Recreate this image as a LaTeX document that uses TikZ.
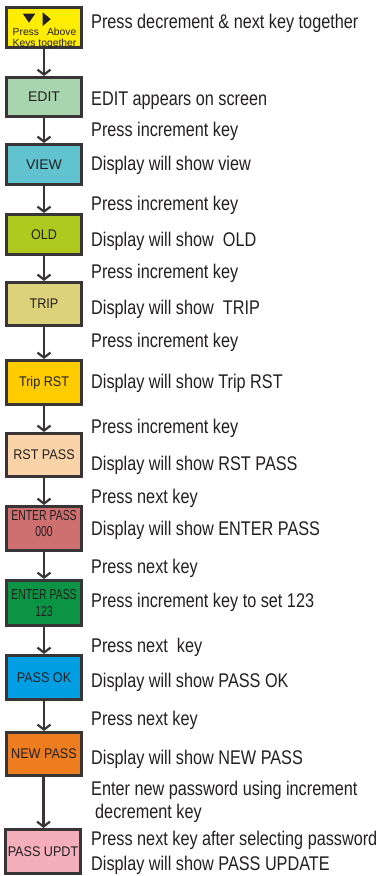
\documentclass[tikz,border=0pt]{standalone}
\usepackage{fontspec}
\setmainfont{Liberation Sans}[FakeStretch=0.82]
\newfontfamily\boxw{Liberation Sans}
\newfontfamily\boxn{Liberation Sans}[FakeStretch=0.9]
\newfontfamily\boxnn{Liberation Sans}[FakeStretch=0.72]
\usetikzlibrary{arrows.meta}
\definecolor{ink}{HTML}{231F20}
\definecolor{cYel}{HTML}{FFED00}
\definecolor{cEdit}{HTML}{A8D5AE}
\definecolor{cView}{HTML}{62C3D0}
\definecolor{cOld}{HTML}{AFCA1E}
\definecolor{cTrip}{HTML}{DCD27A}
\definecolor{cTrst}{HTML}{FFCC00}
\definecolor{cRst}{HTML}{FAD4A8}
\definecolor{cEnA}{HTML}{CF7070}
\definecolor{cEnB}{HTML}{0B9444}
\definecolor{cOk}{HTML}{009FE3}
\definecolor{cNew}{HTML}{EE7D1F}
\definecolor{cUpd}{HTML}{F4AFBA}
\tikzset{
  stepbox/.style={draw=ink!90, line width=3pt, rectangle, inner sep=0pt, minimum width=75pt},
  desc/.style={anchor=base west, inner sep=0pt, text=ink, font=\fontsize{19.8}{23}\selectfont},
  lbl/.style={text=ink, inner sep=0pt, align=center},
  arr/.style={draw=ink!90, line width=2.2pt, -{Straight Barb[length=5pt,width=13pt,line width=2.2pt]}}
}
\begin{document}
\begin{tikzpicture}[x=1pt,y=-1pt]
\useasboundingbox (0,0) rectangle (378,876);
% boxes
\node[stepbox, fill=cYel, minimum height=40pt] (b1) at (44,27.5) {};
\node[stepbox, fill=cEdit, minimum height=39pt] (b2) at (44,97) {};
\node[stepbox, fill=cView, minimum height=40pt] (b3) at (44,164.5) {};
\node[stepbox, fill=cOld, minimum height=40pt] (b4) at (44,234.5) {};
\node[stepbox, fill=cTrip, minimum height=43pt] (b5) at (44,304) {};
\node[stepbox, fill=cTrst, minimum height=44pt] (b6) at (44,382.5) {};
\node[stepbox, fill=cRst, minimum height=43pt] (b7) at (44,455) {};
\node[stepbox, fill=cEnA, minimum height=44pt] (b8) at (44,528.5) {};
\node[stepbox, fill=cEnB, minimum height=45pt] (b9) at (44,603) {};
\node[stepbox, fill=cOk, minimum height=44pt] (b10) at (44,677.5) {};
\node[stepbox, fill=cNew, minimum height=43pt] (b11) at (44,754) {};
\node[stepbox, fill=cUpd, minimum height=44pt] (b12) at (43,851.5) {};
% yellow box content
\fill[ink] (22.7,13.5) -- (35.3,13.5) -- (29,22.7) -- cycle;
\fill[ink] (42.7,12.3) -- (50.7,19.2) -- (42.7,26) -- cycle;
\node[lbl, anchor=base west, font=\boxw\fontsize{10.3}{12}\selectfont] (k1) at (12.5,35.5) {Press};
\node[lbl, anchor=base east, font=\boxw\fontsize{10.3}{12}\selectfont] (k2) at (76.5,35.5) {Above};
\node[lbl, anchor=base, font=\boxw\fontsize{10.3}{12}\selectfont] (k3) at (44.5,46) {Keys together};
% box labels
\node[lbl, font=\boxw\fontsize{14}{16}\selectfont] (l2) at (b2) {EDIT};
\node[lbl, font=\boxw\fontsize{14}{16}\selectfont] (l3) at (b3) {VIEW};
\node[lbl, font=\boxn\fontsize{14}{16}\selectfont] (l4) at (b4) {OLD};
\node[lbl, font=\boxn\fontsize{14}{16}\selectfont] (l5) at (b5) {TRIP};
\node[lbl, font=\boxn\fontsize{14}{16}\selectfont] (l6) at (b6) {Trip RST};
\node[lbl, font=\boxn\fontsize{14}{16}\selectfont] (l7) at (b7) {RST PASS};
\node[lbl, font=\boxnn\fontsize{14.5}{17}\selectfont] (l8) at ([yshift=5pt]b8.center) {ENTER PASS\\000};
\node[lbl, font=\boxnn\fontsize{14.5}{17}\selectfont] (l9) at (b9) {ENTER PASS\\123};
\node[lbl, font=\boxn\fontsize{14}{16}\selectfont] (l10) at (b10) {PASS OK};
\node[lbl, font=\boxn\fontsize{14}{16}\selectfont] (l11) at (b11) {NEW PASS};
\node[lbl, font=\boxn\fontsize{14}{16}\selectfont] (l12) at (b12) {PASS UPDT};
% arrows
\draw[arr] (b1) -- (b2);
\draw[arr] (b2) -- (b3);
\draw[arr] (b3) -- (b4);
\draw[arr] (b4) -- (b5);
\draw[arr] (b5) -- (b6);
\draw[arr] (b6) -- (b7);
\draw[arr] (b7) -- (b8);
\draw[arr] (b8) -- (b9);
\draw[arr] (b9) -- (b10);
\draw[arr] (b10) -- (b11);
\draw[arr] ([xshift=-0.5pt]b11.south) -- ([xshift=0.5pt]b12.north);
% descriptions
\node[desc] (t1) at (91,28) {Press decrement \& next key together};
\node[desc] (t2) at (91,105) {EDIT appears on screen};
\node[desc] (t3) at (91,136) {Press increment key};
\node[desc] (t4) at (91,170) {Display will show view};
\node[desc] (t5) at (91,210) {Press increment key};
\node[desc] (t6) at (91,246) {Display will show\ \ OLD};
\node[desc] (t7) at (91,278) {Press increment key};
\node[desc] (t8) at (91,314) {Display will show\ \ TRIP};
\node[desc] (t9) at (91,347) {Press increment key};
\node[desc] (t10) at (91,388) {Display will show Trip RST};
\node[desc] (t11) at (91,433) {Press increment key};
\node[desc] (t12) at (91,470) {Display will show RST PASS};
\node[desc] (t13) at (91,503) {Press next key};
\node[desc] (t14) at (91,535) {Display will show ENTER PASS};
\node[desc] (t15) at (91,573) {Press next key};
\node[desc] (t16) at (91,607) {Press increment key to set 123};
\node[desc] (t17) at (91,652) {Press next\ \ key};
\node[desc] (t18) at (91,687) {Display will show PASS OK};
\node[desc] (t19) at (91,725) {Press next key};
\node[desc] (t20) at (91,764) {Display will show NEW PASS};
\node[desc] (t21) at (91,795) {Enter new password using increment};
\node[desc] (t22) at (95,818) {decrement key};
\node[desc] (t23) at (91,845) {Press next key after selecting password};
\node[desc] (t24) at (91,870) {Display will show PASS UPDATE};
\end{tikzpicture}
\end{document}
